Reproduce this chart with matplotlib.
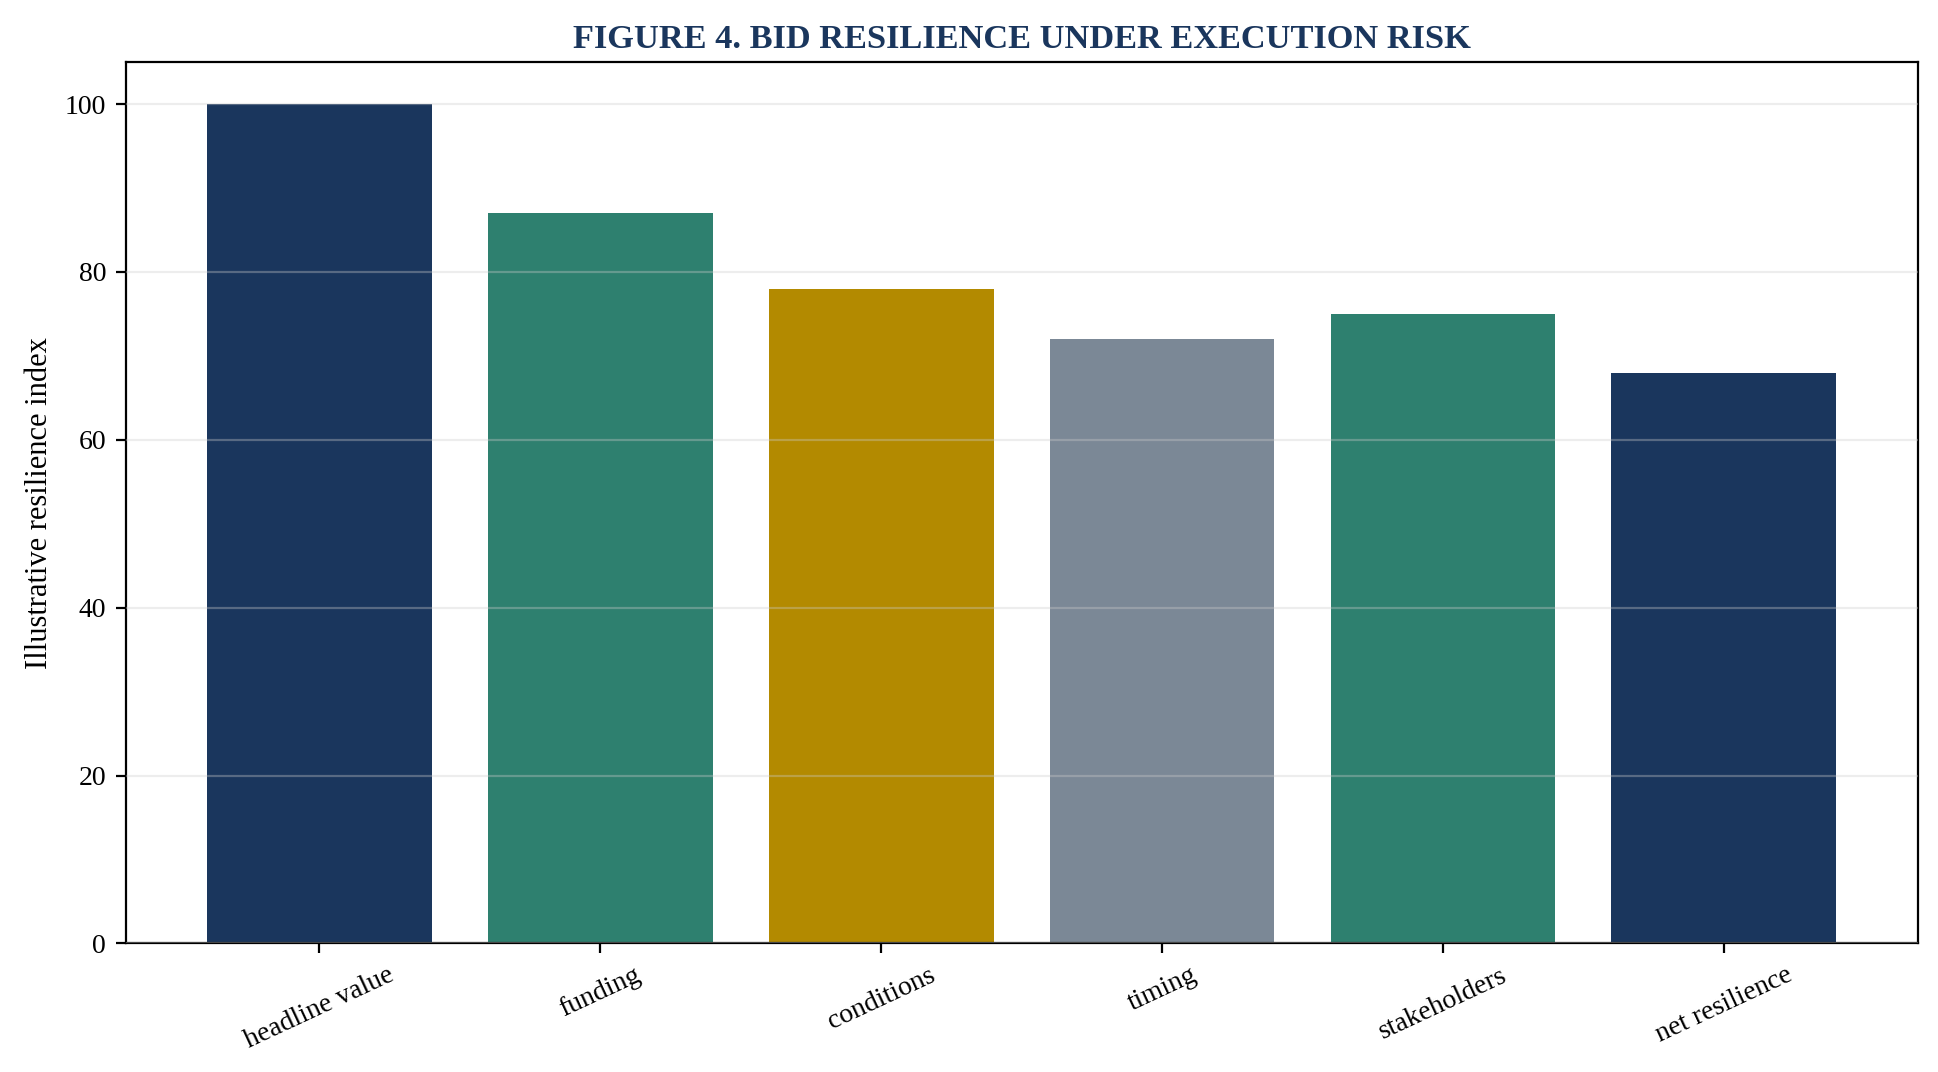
import matplotlib
matplotlib.use("Agg")
import matplotlib.pyplot as plt

plt.rcParams['font.family'] = ['Liberation Serif', 'DejaVu Serif']

categories = ["headline value", "funding", "conditions", "timing", "stakeholders", "net resilience"]
values = [100, 87, 78, 72, 75, 68]
colors = ["#1a365d", "#2e806f", "#b38a00", "#7b8896", "#2e806f", "#1a365d"]

fig, ax = plt.subplots(figsize=(1938 / 200, 1072 / 200), dpi=200)
fig.subplots_adjust(left=0.0648, right=0.9895, top=0.942, bottom=0.12)

ax.bar(categories, values, color=colors, width=0.8)
ax.grid(axis='y', color='#cccccc', alpha=0.35, linewidth=0.8)
ax.set_axisbelow(False)

ax.set_ylabel("Illustrative resilience index", fontsize=11)
ax.set_title("FIGURE 4. BID RESILIENCE UNDER EXECUTION RISK", fontsize=12.4,
             fontweight='bold', color="#1a365d", pad=5)
ax.tick_params(axis='both', labelsize=10)
plt.setp(ax.get_xticklabels(), rotation=25, ha='center')
for s in ax.spines.values():
    s.set_linewidth(0.8)

fig.savefig("out.png", dpi=200)
